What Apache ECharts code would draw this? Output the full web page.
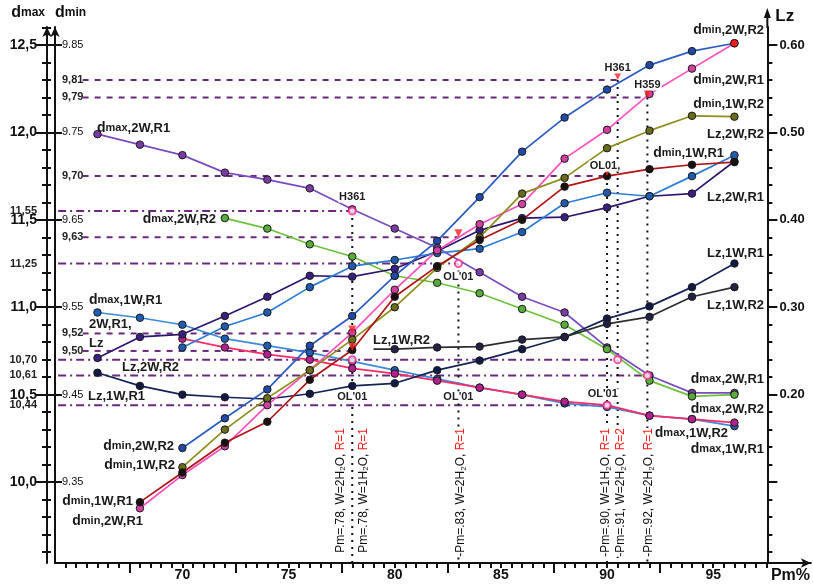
<!DOCTYPE html>
<html><head><meta charset="utf-8">
<script src="https://cdn.jsdelivr.net/npm/echarts@6/dist/echarts.min.js"></script>
<style>html,body{margin:0;padding:0;background:#fff}#c{width:813px;height:584px}</style>
</head><body><div id="c"></div>
<script>
// ---------- DATA ----------
const pmEven = [66,68,70,72,74,76,78,80,82,84,86,88,90,92,94,96];
const pm68 = [68,70,72,74,76,78,80,82,84,86,88,90,92,94,96];
const pm70 = [70,72,74,76,78,80,82,84,86,88,90,92,94,96];
const pm72 = [72,74,76,78,80,82,84,86,88,90,92,94,96];
const pmLz1WR2 = [79,80,82,84,86,88,90,92,94,96];

// dmax series (left outer axis)
const dmax_2W_R1 = [11.99,11.93,11.87,11.77,11.73,11.68,11.56,11.45,11.34,11.20,11.06,10.97,10.77,10.61,10.51,10.51];
const dmax_2W_R2 = [11.51,11.45,11.36,11.29,11.18,11.14,11.08,10.99,10.90,10.76,10.58,10.49,10.50];
const dmax_1W_R1 = [10.97,10.94,10.90,10.82,10.78,10.74,10.69,10.64,10.59,10.54,10.50,10.45,10.43,10.38,10.36,10.32];
const dmax_1W_R2 = [10.82,10.77,10.73,10.70,10.65,10.62,10.58,10.54,10.50,10.46,10.44,10.38,10.36,10.34];
// Lz series (right axis)
const Lz_2W_R1 = [0.242,0.266,0.269,0.290,0.312,0.336,0.335,0.344,0.364,0.388,0.402,0.403,0.414,0.427,0.430,0.467];
const Lz_2W_R2 = [0.254,0.278,0.294,0.323,0.347,0.354,0.362,0.367,0.386,0.419,0.431,0.427,0.450,0.474];
const Lz_1W_R1 = [0.225,0.210,0.200,0.197,0.195,0.201,0.210,0.213,0.228,0.239,0.252,0.266,0.287,0.301,0.323,0.350];
const Lz_1W_R2 = [0.252,0.252,0.254,0.255,0.263,0.266,0.281,0.289,0.312,0.323];
// dmin series (left inner axis)
const dmin_2W_R2 = [9.389,9.423,9.456,9.506,9.540,9.586,9.626,9.676,9.728,9.767,9.799,9.827,9.843,9.852];
const dmin_2W_R1 = [9.320,9.358,9.391,9.438,9.478,9.521,9.570,9.615,9.645,9.668,9.720,9.753,9.794,9.823,9.852];
const dmin_1W_R2 = [9.367,9.410,9.446,9.478,9.513,9.550,9.595,9.630,9.680,9.698,9.732,9.752,9.769,9.768];
const dmin_1W_R1 = [9.327,9.361,9.395,9.419,9.467,9.501,9.562,9.597,9.627,9.650,9.688,9.700,9.708,9.713,9.716];

// reference lines
const dminRefValues = [9.81, 9.79, 9.70, 9.63, 9.52, 9.50];
const dminRefEnds   = [90.5, 91.9, 90, 83, 78, 78];
const dmaxRefValues = [11.55, 11.25, 10.70, 10.61, 10.44];
const dmaxRefEnds   = [78, 83, 90.5, 91.9, 90];
// vertical marker lines: Pm position, axis of top point, top value
const vPm   = [78, 83, 90, 90.5, 91.9];
const vAxis = ['dmax','dmax','dmin','dmin','dmin'];
const vTop  = [11.55, 11.25, 9.70, 9.81, 9.79];
// highlighted points
const circlePm = [78, 83, 78, 90.5, 91.9, 90];
const circleDmax = [11.55, 11.25, 10.70, 10.70, 10.61, 10.44];
const triPm = [90.5, 91.9, 90, 83, 78, 78];
const triDmin = [9.81, 9.79, 9.70, 9.63, 9.52, 9.50];

// tick labels
const xLabels = [70,75,80,85,90,95];
const dmaxMajor = [10.0,10.5,11.0,11.5,12.0,12.5];
const dmaxSpecial = [11.55,11.25,10.70,10.61,10.44];
const dminMajor = [9.35,9.45,9.55,9.65,9.75,9.85];
const dminSpecial = [9.81,9.79,9.70,9.63,9.52,9.50];
const lzMajor = [0.20,0.30,0.40,0.50,0.60];

// ---------- AXES ----------
const DMAX_MIN = 9.537, DMAX_MAX = 12.603;
const toDmin = v => 9.35 + (v - 10) * 0.2;
const toLz = v => (v - 9.5) * 0.2;
const FONT = "'Liberation Sans', Arial, sans-serif";
const AX = '#111';

function range(a, b, s) { const r = []; for (let v = a; v <= b + 1e-9; v += s) r.push(Math.round(v * 1000) / 1000); return r; }
const dmaxMinorTicks = range(9.6, 12.6, 0.1);
const lzMinorTicks = range(0.02, 0.60, 0.02);
const xSmallTicks = range(64.5, 97.5, 0.5);
const xTallTicks = [67.5,72.5,77.5,82.5,87.5,92.5];
const comma = (v, d) => v.toFixed(d).replace('.', ',');

const ghostY = (extra) => Object.assign({
  type: 'value', position: 'left', offset: 8, min: DMAX_MIN, max: DMAX_MAX,
  axisLine: { show: false, onZero: false }, splitLine: { show: false }, axisLabel: { show: false }
}, extra);

const xAxis = [
  { type: 'value', min: 64, max: 99.6, position: 'bottom',
    axisLine: { onZero: false, lineStyle: { color: AX, width: 2 }, symbol: ['none', 'arrow'], symbolSize: [7, 10] },
    axisTick: { customValues: xTallTicks, length: 10, lineStyle: { color: AX, width: 2 } },
    axisLabel: { customValues: xLabels, color: AX, fontFamily: FONT, fontWeight: 'bold', fontSize: 14, margin: 5 },
    splitLine: { show: false },
    name: 'Pm%', nameLocation: 'end', nameGap: -40,
    nameTextStyle: { color: AX, fontFamily: FONT, fontWeight: 'bold', fontSize: 16, verticalAlign: 'top', align: 'left', padding: [5, 0, 0, 0] } },
  { type: 'value', min: 64, max: 99.6, position: 'bottom',
    axisLine: { show: false, onZero: false },
    axisTick: { customValues: xSmallTicks, length: 5, lineStyle: { color: AX, width: 2 } },
    axisLabel: { show: false }, splitLine: { show: false } }
];

const nameRich = {
  d: { fontFamily: FONT, fontWeight: 'bold', fontSize: 16, color: AX },
  s: { fontFamily: FONT, fontWeight: 'bold', fontSize: 12, color: AX }
};

const yAxis = [
  // 0: dmin axis
  { type: 'value', position: 'left', offset: 0, min: toDmin(DMAX_MIN), max: toDmin(DMAX_MAX),
    axisLine: { onZero: false, lineStyle: { color: AX, width: 2 }, symbol: ['none', 'arrow'], symbolSize: [7, 10] },
    axisTick: { show: false },
    axisLabel: { inside: true, margin: 7, customValues: dminMajor.concat(dminSpecial),
      formatter: v => dminMajor.some(m => Math.abs(m - v) < 1e-6) ? '{m|' + v.toFixed(2) + '}' : '{s|' + comma(v, 2) + '}',
      rich: { m: { fontFamily: FONT, fontSize: 11, color: AX }, s: { fontFamily: FONT, fontSize: 11, fontWeight: 'bold', color: '#222' } } },
    splitLine: { show: false },
    name: '{d|d}{s|min}', nameLocation: 'end', nameGap: 6,
    nameTextStyle: { align: 'left', rich: nameRich } },
  // 1: dmax axis
  { type: 'value', position: 'left', offset: 8, min: DMAX_MIN, max: DMAX_MAX,
    axisLine: { onZero: false, lineStyle: { color: AX, width: 2 }, symbol: ['none', 'arrow'], symbolSize: [7, 10] },
    axisTick: { customValues: dmaxMinorTicks, length: 5, lineStyle: { color: AX, width: 2 } },
    axisLabel: { customValues: dmaxMajor.concat(dmaxSpecial), margin: 10,
      formatter: v => dmaxMajor.some(m => Math.abs(m - v) < 1e-6) ? '{m|' + comma(v, 1) + '}' : '{s|' + comma(v, 2) + '}',
      rich: { m: { fontFamily: FONT, fontSize: 14, fontWeight: 'bold', color: AX }, s: { fontFamily: FONT, fontSize: 11, fontWeight: 'bold', color: '#222' } } },
    splitLine: { show: false },
    name: '{d|d}{s|max}', nameLocation: 'end', nameGap: 6,
    nameTextStyle: { align: 'right', padding: [0, 2, 0, 0], rich: nameRich } },
  // 2: Lz axis
  { type: 'value', position: 'right', offset: -43.5, min: toLz(DMAX_MIN), max: toLz(DMAX_MAX),
    axisLine: { onZero: false, lineStyle: { color: AX, width: 2 } },
    axisTick: { customValues: lzMinorTicks, length: 5, lineStyle: { color: AX, width: 2 } },
    axisLabel: { customValues: lzMajor, margin: 12, formatter: v => v.toFixed(2),
      color: AX, fontFamily: FONT, fontWeight: 'bold', fontSize: 13 },
    splitLine: { show: false } },
  // 3-5: ghost tick axes for dmax
  ghostY({ axisTick: { customValues: dmaxMinorTicks, inside: true, length: 4, lineStyle: { color: AX, width: 2 } } }),
  ghostY({ axisTick: { customValues: dmaxMajor, inside: true, length: 15, lineStyle: { color: AX, width: 2 } } }),
  ghostY({ axisTick: { customValues: dmaxMajor, length: 12, lineStyle: { color: AX, width: 2 } } }),
  // 6: ghost major ticks on Lz
  { type: 'value', position: 'right', offset: -43.5, min: toLz(DMAX_MIN), max: toLz(DMAX_MAX),
    axisLine: { show: false, onZero: false }, splitLine: { show: false }, axisLabel: { show: false },
    axisTick: { customValues: lzMajor.concat([0.10]), length: 10, lineStyle: { color: AX, width: 2 } } }
];

// ---------- SERIES ----------
const AXIS_IDX = { dmin: 0, dmax: 1, Lz: 2 };
const seriesDefs = [
  { name: 'dmax,2W,R1', axis: 'dmax', pm: pmEven, v: dmax_2W_R1, line: '#7a4cc0', mark: '#7c3aa6' },
  { name: 'dmax,2W,R2', axis: 'dmax', pm: pm72, v: dmax_2W_R2, line: '#6cc23a', mark: '#58ad3a' },
  { name: 'dmax,1W,R1', axis: 'dmax', pm: pmEven, v: dmax_1W_R1, line: '#3d8ad8', mark: '#1f5cb4' },
  { name: 'dmax,1W,R2', axis: 'dmax', pm: pm70, v: dmax_1W_R2, line: '#ff2a66', mark: '#b3208f' },
  { name: 'Lz,2W,R1', axis: 'Lz', pm: pmEven, v: Lz_2W_R1, line: '#2e1670', mark: '#3b1f80' },
  { name: 'Lz,2W,R2', axis: 'Lz', pm: pm70, v: Lz_2W_R2, line: '#2d7dd6', mark: '#1f5cb0' },
  { name: 'Lz,1W,R1', axis: 'Lz', pm: pmEven, v: Lz_1W_R1, line: '#142456', mark: '#111a44' },
  { name: 'Lz,1W,R2', axis: 'Lz', pm: pmLz1WR2, v: Lz_1W_R2, line: '#2e2e2e', mark: '#222244', noFirst: true },
  { name: 'dmin,2W,R1', axis: 'dmin', pm: pm68, v: dmin_2W_R1, line: '#ff4fc0', mark: '#d2409f' },
  { name: 'dmin,1W,R2', axis: 'dmin', pm: pm70, v: dmin_1W_R2, line: '#8e8e1c', mark: '#6b6b18' },
  { name: 'dmin,1W,R1', axis: 'dmin', pm: pm68, v: dmin_1W_R1, line: '#b01414', mark: '#1a1010' },
  { name: 'dmin,2W,R2', axis: 'dmin', pm: pm70, v: dmin_2W_R2, line: '#2b5cc2', mark: '#2149a8', lastRed: true }
];

const series = [];
const PURPLE = '#6a2a7c';
// reference lines (drawn first)
dminRefValues.forEach((v, i) => series.push({
  type: 'line', xAxisIndex: 0, yAxisIndex: 0, symbol: 'none', silent: true, z: 1, clip: false,
  data: [[65.3, v], [dminRefEnds[i], v]],
  lineStyle: { color: PURPLE, width: 2, type: [6, 6] }
}));
dmaxRefValues.forEach((v, i) => series.push({
  type: 'line', xAxisIndex: 0, yAxisIndex: 1, symbol: 'none', silent: true, z: 1, clip: false,
  data: [[63.3, v], [dmaxRefEnds[i], v]],
  lineStyle: { color: PURPLE, width: 2, type: [8, 4, 2, 4] }
}));
vPm.forEach((p, i) => {
  const ai = AXIS_IDX[vAxis[i]];
  const bottom = ai === 0 ? toDmin(DMAX_MIN) : DMAX_MIN;
  series.push({
    type: 'line', xAxisIndex: 0, yAxisIndex: ai, symbol: 'none', silent: true, z: 1,
    data: [[p, vTop[i]], [p, bottom]],
    lineStyle: { color: '#111', width: 2, type: [2, 5] }
  });
});

seriesDefs.forEach(s => {
  const data = s.pm.map((p, i) => {
    const d = { value: [p, s.v[i]] };
    if (s.noFirst && i === 0) d.symbol = 'none';
    if (s.lastRed && i === s.pm.length - 1) d.itemStyle = { color: '#ff1a1a' };
    return d;
  });
  series.push({
    type: 'line', name: s.name, xAxisIndex: 0, yAxisIndex: AXIS_IDX[s.axis],
    data, symbol: 'circle', symbolSize: 7.5, z: 3,
    lineStyle: { color: s.line, width: 1.7 },
    itemStyle: { color: s.mark, borderColor: '#1a1a1a', borderWidth: 1 },
    emphasis: { disabled: true }
  });
});

series.push({
  type: 'scatter', xAxisIndex: 0, yAxisIndex: 1, z: 5, symbol: 'circle', symbolSize: 7,
  data: circlePm.map((p, i) => [p, circleDmax[i]]),
  itemStyle: { color: '#fff', borderColor: '#ff2a8a', borderWidth: 2 }
});
series.push({
  type: 'scatter', xAxisIndex: 0, yAxisIndex: 0, z: 5, symbol: 'triangle', symbolSize: [8, 8],
  symbolRotate: 180, symbolOffset: [0, -4],
  data: triPm.map((p, i) => [p, triDmin[i]]),
  itemStyle: { color: '#ff1f1f' }
});

const chart = echarts.init(document.getElementById('c'), null, { renderer: 'canvas' });
chart.setOption({
  animation: false,
  backgroundColor: '#fff',
  grid: { left: 55, right: 1.5, top: 27, bottom: 21, containLabel: false },
  xAxis, yAxis, series
});

// ---------- ANNOTATIONS ----------
const X = p => chart.convertToPixel({ xAxisIndex: 0 }, p);
const labRich = {
  d: { fontFamily: FONT, fontWeight: 'bold', fontSize: 14, fill: '#1a1a1a' },
  s: { fontFamily: FONT, fontWeight: 'bold', fontSize: 11, fill: '#1a1a1a' },
  t: { fontFamily: FONT, fontWeight: 'bold', fontSize: 13, fill: '#1a1a1a' }
};
function labText(s) {
  if (s.startsWith('dmax') || s.startsWith('dmin')) return '{d|d}{s|' + s.slice(1, 4) + '}{t|' + s.slice(4) + '}';
  return '{t|' + s + '}';
}
// [text, x, y, align]
const seriesLabels = [
  ['dmax,2W,R1', 97, 128, 'left'], ['dmax,2W,R2', 216, 219, 'right'], ['dmax,1W,R1', 89, 300, 'left'],
  ['2W,R1,', 89, 324, 'left'], ['Lz', 89, 343, 'left'], ['Lz,2W,R2', 122, 367, 'left'],
  ['Lz,1W,R1', 88, 396, 'left'], ['Lz,1W,R2', 373, 340, 'left'],
  ['dmin,2W,R2', 174, 446, 'right'], ['dmin,1W,R2', 175, 465, 'right'],
  ['dmin,1W,R1', 133, 501, 'right'], ['dmin,2W,R1', 143, 521, 'right'],
  ['dmin,2W,R2', 764, 30, 'right'], ['dmin,2W,R1', 764, 80, 'right'], ['dmin,1W,R2', 764, 104, 'right'],
  ['Lz,2W,R2', 764, 134, 'right'], ['dmin,1W,R1', 724, 153, 'right'], ['Lz,2W,R1', 764, 197, 'right'],
  ['Lz,1W,R1', 764, 253, 'right'], ['Lz,1W,R2', 764, 305, 'right'], ['dmax,2W,R1', 764, 379, 'right'],
  ['dmax,2W,R2', 764, 409, 'right'], ['dmax,1W,R2', 728, 433, 'right'], ['dmax,1W,R1', 764, 449, 'right']
];
const graphic = [];
seriesLabels.forEach(([t, x, y, a]) => graphic.push({
  type: 'text', x, y, z: 20, style: { text: labText(t), rich: labRich, align: a, verticalAlign: 'middle' }
}));
// small point labels [text, pm, y]
const small = [['H361', 78, 197], ['OL\'01', 78, 397], ['OL\'01', 83, 397], ['OL\'01', 83, 277],
  ['OL\'01', 89.8, 394], ['OL01,', 89.9, 166], ['H361', 90.5, 68], ['H359', 91.9, 85]];
small.forEach(([t, p, y]) => graphic.push({
  type: 'text', x: X(p), y, z: 20,
  style: { text: t, fill: '#222', font: 'bold 11px ' + FONT, align: 'center', verticalAlign: 'middle', backgroundColor: '#fff', padding: [0, 1] }
}));
// vertical rotated texts [pm, dx, W-number, R-number]
const vt = [[78, -12, '2', '1', ''], [78, 11, '1', '1', ''], [83, 2, '2', '1', '-'], [90, -1, '1', '1', '-'], [90.5, 3, '2', '2', '-'], [91.9, 1, '2', '1', '-']];
const vRich = {
  a: { fontFamily: FONT, fontSize: 12, fill: '#111' },
  b: { fontFamily: FONT, fontSize: 8, fill: '#111', verticalAlign: 'bottom', padding: [6, 0, 0, 0] },
  r: { fontFamily: FONT, fontSize: 12, fill: '#ff1a1a' }
};
vt.forEach(([p, dx, w, r, pre]) => {
  const pmStr = p === 90.5 ? '.91' : (p === 91.9 ? '.92' : '.' + Math.round(p));
  graphic.push({
    type: 'text', x: X(p) + dx, y: 428, rotation: Math.PI / 2, z: 20,
    style: {
      text: '{a|' + pre + 'Pm=' + pmStr + ', W=' + w + 'H}{b|2}{a|O, }{r|R=' + r + '}',
      rich: vRich, align: 'right', verticalAlign: 'middle',
      backgroundColor: pre ? '#fff' : 'transparent'
    }
  });
});
// Lz axis extension with arrow + name
const xr = X(97.55);
graphic.push({ type: 'line', z: 10, shape: { x1: xr, y1: 28, x2: xr, y2: 14 }, style: { stroke: AX, lineWidth: 2 } });
graphic.push({ type: 'polygon', z: 10, shape: { points: [[xr - 3.5, 18], [xr + 3.5, 18], [xr, 8]] }, style: { fill: AX } });
graphic.push({ type: 'text', x: xr + 8, y: 16, z: 10, style: { text: 'Lz', font: 'bold 17px ' + FONT, fill: AX, verticalAlign: 'middle' } });

chart.setOption({ graphic });
</script>
</body></html>
